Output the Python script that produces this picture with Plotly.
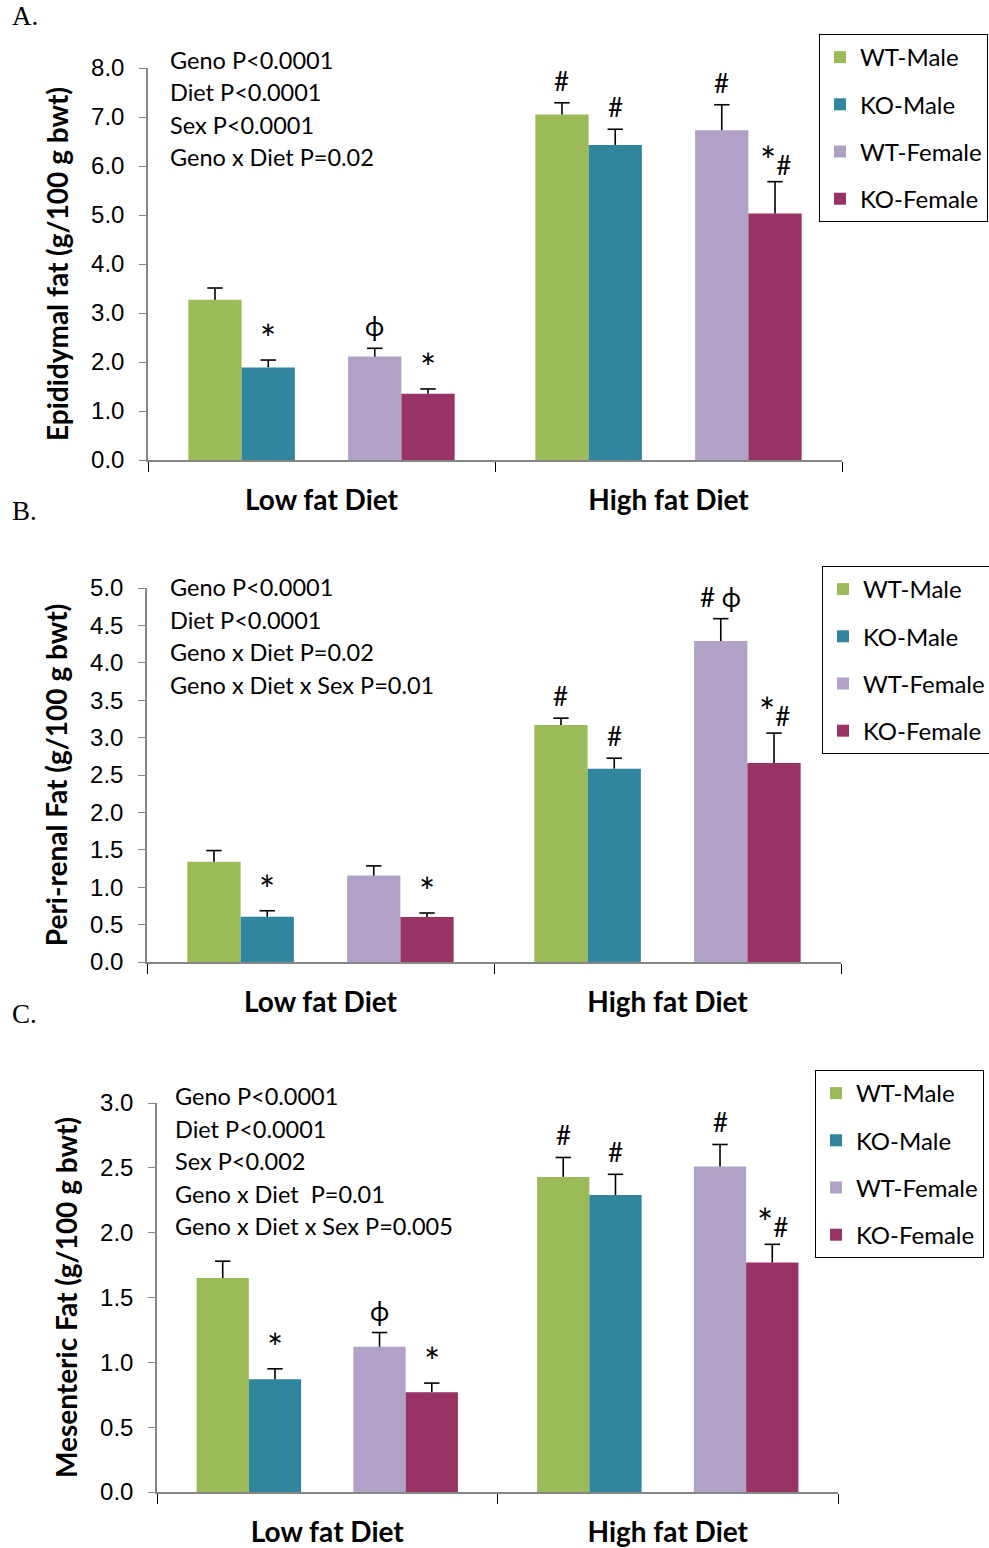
import plotly.graph_objects as go

W, H = 989, 1548

# ---------------- data ----------------
diets = ["Low fat Diet", "High fat Diet"]
groups = ["WT-Male", "KO-Male", "WT-Female", "KO-Female"]

# rows = groups (WT-Male, KO-Male, WT-Female, KO-Female); cols = diets (Low fat, High fat)
epi_mean = [[3.27, 7.05], [1.89, 6.43], [2.11, 6.73], [1.35, 5.03]]
epi_err = [[0.24, 0.24], [0.15, 0.32], [0.17, 0.52], [0.10, 0.65]]
epi_sig = [["", "#"], ["*", "#"], ["ϕ", "#"], ["*", "*#"]]
epi_stats = ["Geno P<0.0001", "Diet P<0.0001", "Sex P<0.0001", "Geno x Diet P=0.02"]

peri_mean = [[1.34, 3.17], [0.605, 2.585], [1.155, 4.29], [0.60, 2.66]]
peri_err = [[0.15, 0.09], [0.08, 0.14], [0.13, 0.30], [0.055, 0.40]]
peri_sig = [["", "#"], ["*", "#"], ["", "# ϕ"], ["*", "*#"]]
peri_stats = ["Geno P<0.0001", "Diet P<0.0001", "Geno x Diet P=0.02", "Geno x Diet x Sex P=0.01"]

mes_mean = [[1.65, 2.43], [0.87, 2.29], [1.12, 2.51], [0.77, 1.77]]
mes_err = [[0.13, 0.15], [0.08, 0.16], [0.11, 0.17], [0.07, 0.14]]
mes_sig = [["", "#"], ["*", "#"], ["ϕ", "#"], ["*", "*#"]]
mes_stats = ["Geno P<0.0001", "Diet P<0.0001", "Sex P<0.002", "Geno x Diet\u00a0 P=0.01", "Geno x Diet x Sex P=0.005"]

# ---------------- style ----------------
colors = ["#9BBB59", "#31859C", "#B2A1C7", "#993366"]
slot = [-2, -1, 1, 2]
BAR_W = 0.1535
SANS = "Lato"
AXIS_GRAY = "#868686"


def sig_html(s):
    # enlarge the asterisk like the original's Calibri glyph
    return s.replace("*", "<span style='font-size:38px'>*</span>")


panels = [
    dict(letter="A.", ylabel="Epididymal fat (g/100 g bwt)", mean=epi_mean, err=epi_err, sig=epi_sig,
         stats=epi_stats, x0=148, x1=842, ytop=68, ybot=460, ymax=8, dtick=1,
         letter_y=16, stats_x=168, stats_y=60, stats_dy=32.4, leg_x=819, leg_y=34),
    dict(letter="B.", ylabel="Peri-renal Fat (g/100 g bwt)", mean=peri_mean, err=peri_err, sig=peri_sig,
         stats=peri_stats, x0=147, x1=841, ytop=588, ybot=962, ymax=5, dtick=0.5,
         letter_y=511, stats_x=168, stats_y=587, stats_dy=32.7, leg_x=822, leg_y=566),
    dict(letter="C.", ylabel="Mesenteric Fat (g/100 g bwt)", mean=mes_mean, err=mes_err, sig=mes_sig,
         stats=mes_stats, x0=157, x1=838, ytop=1103, ybot=1492, ymax=3, dtick=0.5,
         letter_y=1014, stats_x=173, stats_y=1096, stats_dy=32.5, leg_x=815, leg_y=1070),
]

fig = go.Figure()
annotations = []
layout = dict(
    width=W, height=H, margin=dict(l=0, r=0, t=0, b=0, autoexpand=False),
    paper_bgcolor="white", plot_bgcolor="white", barmode="overlay",
    showlegend=True,
)

for p_i, P in enumerate(panels):
    sfx = "" if p_i == 0 else str(p_i + 1)
    xa, ya, lg = "x" + sfx, "y" + sfx, "legend" + sfx
    for g_i, g in enumerate(groups):
        xs = [d + 0.5 + slot[g_i] * BAR_W for d in range(len(diets))]
        means = P["mean"][g_i]
        errs = P["err"][g_i]
        fig.add_trace(go.Bar(
            x=xs, y=means, width=BAR_W, name=g, legend=lg, legendgroup=f"{p_i}-{g}",
            marker=dict(color=colors[g_i], line=dict(width=0)),
            error_y=dict(type="data", array=errs, arrayminus=[0] * len(errs), symmetric=False,
                         width=0, thickness=1.6, color="black"),
            xaxis=xa, yaxis=ya, hoverinfo="skip",
        ))
        tops = [m + e for m, e in zip(means, errs)]
        fig.add_trace(go.Scatter(
            x=xs, y=tops, mode="markers", showlegend=False, legend=lg,
            marker=dict(symbol="line-ew", size=11, line=dict(width=1.6, color="black")),
            xaxis=xa, yaxis=ya, hoverinfo="skip",
        ))
        for d in range(len(diets)):
            s = P["sig"][g_i][d]
            if s:
                annotations.append(dict(
                    x=xs[d], y=tops[d], xref=xa, yref=ya, text=sig_html(s), showarrow=False,
                    yanchor="middle", xanchor="center", yshift=22,
                    font=dict(family=SANS, size=26, color="black"),
                ))

    layout["xaxis" + sfx] = dict(
        domain=[P["x0"] / W, P["x1"] / W], range=[0, 2], anchor=ya,
        tickmode="array", tickvals=[0.5, 1.5], ticktext=diets, ticks="",
        showline=True, linecolor=AXIS_GRAY, linewidth=1.5, showgrid=False, zeroline=False,
        tickfont=dict(family=SANS, size=28, color="black", weight="bold"),
        ticklabelstandoff=15,
        minor=dict(tickmode="array", tickvals=[0, 1, 2], ticks="outside", ticklen=10,
                   tickcolor="black", tickwidth=1.3, showgrid=False),
    )
    layout["yaxis" + sfx] = dict(
        domain=[1 - P["ybot"] / H, 1 - P["ytop"] / H], range=[0, P["ymax"]], anchor=xa,
        tick0=0, dtick=P["dtick"], tickformat=".1f", ticks="outside", ticklen=7,
        tickcolor=AXIS_GRAY, tickwidth=1.3, showline=True, linecolor=AXIS_GRAY, linewidth=1.5,
        showgrid=False, zeroline=False,
        tickfont=dict(family="Liberation Sans", size=24, color="black"),
        ticklabelstandoff=10,
        title=dict(text=P["ylabel"], standoff=14,
                   font=dict(family=SANS, size=28, color="black", weight="bold")),
    )
    layout[lg] = dict(
        x=P["leg_x"] / W, y=1 - P["leg_y"] / H, xanchor="left", yanchor="top",
        bordercolor="black", borderwidth=1, bgcolor="white",
        font=dict(family=SANS, size=24, color="black"), tracegroupgap=13,
        traceorder="grouped",
    )
    # stats text
    for i, line in enumerate(P["stats"]):
        annotations.append(dict(
            x=P["stats_x"] / W, y=1 - (P["stats_y"] + i * P["stats_dy"]) / H,
            xref="paper", yref="paper", xanchor="left", yanchor="middle",
            text=line, showarrow=False, font=dict(family=SANS, size=23.5, color="black"),
        ))
    # panel letter
    annotations.append(dict(
        x=10 / W, y=1 - P["letter_y"] / H, xref="paper", yref="paper",
        xanchor="left", yanchor="middle", text=P["letter"], showarrow=False,
        font=dict(family="Liberation Serif", size=27, color="black"),
    ))

layout["annotations"] = annotations
fig.update_layout(**layout)
fig.write_html("out.html")
